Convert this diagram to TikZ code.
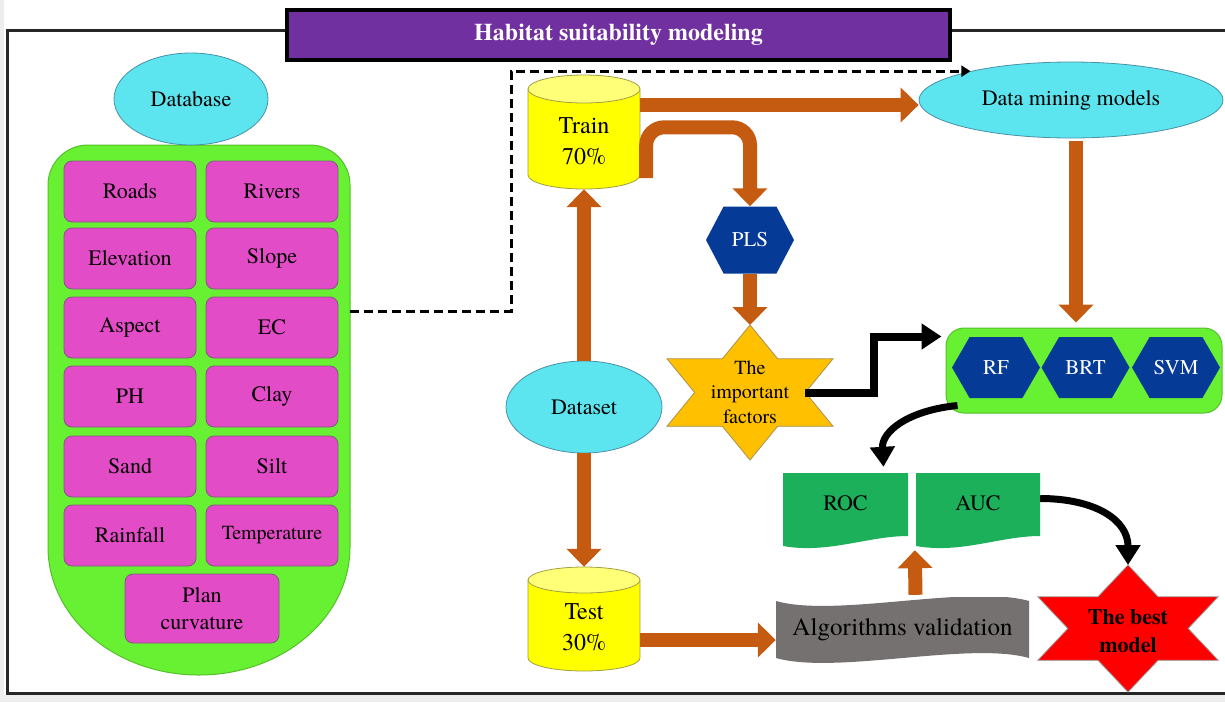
\documentclass[tikz,border=0pt]{standalone}
\usepackage{fontspec}
\setmainfont{TeX Gyre Termes}
\usetikzlibrary{shapes.geometric, arrows.meta, calc}
\definecolor{cyanc}{HTML}{5CE5EE}
\definecolor{cyanb}{HTML}{4A90A8}
\definecolor{panelg}{HTML}{68F132}
\definecolor{panelb}{HTML}{55C02A}
\definecolor{magc}{HTML}{E34CC7}
\definecolor{magb}{HTML}{7F5A80}
\definecolor{cylc}{HTML}{FFFF00}
\definecolor{cyltop}{HTML}{FFFF78}
\definecolor{cylb}{HTML}{A0A040}
\definecolor{orng}{HTML}{C55A11}
\definecolor{hexc}{HTML}{053A96}
\definecolor{starc}{HTML}{FFC000}
\definecolor{starb}{HTML}{A89050}
\definecolor{docc}{HTML}{1DB05A}
\definecolor{banc}{HTML}{767171}
\definecolor{redc}{HTML}{FF0000}
\definecolor{purp}{HTML}{7030A0}
\newcommand\myfs[2]{\fontsize{#1}{#2}\selectfont}
\begin{document}
\begin{tikzpicture}[x=1pt,y=-1pt,
  every node/.style={font=\myfs{22}{26}},
  oval/.style={ellipse, fill=cyanc, draw=cyanb, line width=0.8pt, inner sep=0pt},
  var/.style={rectangle, rounded corners=8pt, fill=magc, draw=magb, line width=0.8pt,
    minimum width=132pt, minimum height=61pt, inner sep=0pt, align=center},
  cylshape/.style={rectangle, inner sep=0pt, minimum width=112pt},
  cyltext/.style={align=center, font=\myfs{24}{31}},
  hexnode/.style={rectangle, inner sep=0pt, text=white, font=\myfs{21}{25},
    path picture={\fill[hexc] (path picture bounding box.west)
      -- ($(path picture bounding box.north west)!0.2!(path picture bounding box.north east)$)
      -- ($(path picture bounding box.north west)!0.8!(path picture bounding box.north east)$)
      -- (path picture bounding box.east)
      -- ($(path picture bounding box.south west)!0.8!(path picture bounding box.south east)$)
      -- ($(path picture bounding box.south west)!0.2!(path picture bounding box.south east)$)
      -- cycle;}},
  doc/.style={rectangle, inner sep=0pt, minimum height=77pt, text height=15pt, text depth=17pt,
    path picture={\fill[docc] (path picture bounding box.north west)
      -- (path picture bounding box.north east)
      -- ($(path picture bounding box.south east)+(0,-14)$)
      .. controls +(-40,0) and +(45,8) .. ($(path picture bounding box.south west)+(0,-4)$)
      -- cycle;}},
  banner/.style={rectangle, inner sep=0pt,
    path picture={\fill[banc] ($(path picture bounding box.north west)+(0,4)$)
      .. controls +(60,17) and +(-60,-17) .. ($(path picture bounding box.north east)+(0,4)$)
      -- ($(path picture bounding box.south east)+(0,-5)$)
      .. controls +(-60,-17) and +(60,17) .. ($(path picture bounding box.south west)+(0,-5)$)
      -- cycle;}},
  oarrow/.style={draw=orng, line width=14pt, -{Triangle[width=34pt,length=18pt]}},
  barrow/.style={draw=black, line width=8pt, line join=miter, -{Triangle[width=25pt,length=20pt]}},
  carrow/.style={draw=black, line width=7pt, -{Triangle[width=24pt,length=20pt]}},
  dashconn/.style={draw=black, line width=3pt, dash pattern=on 9pt off 5pt, -{Triangle[width=11pt,length=9pt]}},
  ]
\useasboundingbox (0,0) rectangle (1225,702);
\fill[white] (0,0) rectangle (1225,702);
\fill[black!7] (0,695) rectangle (1225,702);
\fill[black!7] (0,0) rectangle (4,702);
% frame
\draw[line width=3pt, draw=black!85, line join=miter] (1240,30) -- (7,30) -- (7,693) -- (1240,693);
% title
\node[fill=purp, draw=black, line width=3.5pt, minimum width=663pt, minimum height=50pt, inner sep=0pt,
  text=white, font=\myfs{24}{28}\bfseries] (title) at (618.5,35) {Habitat suitability modeling};

% left panel
\filldraw[fill=panelg, draw=panelb, line width=1pt] (48,185) arc[start angle=180,end angle=270,radius=40]
  -- (310,145) arc[start angle=270,end angle=360,radius=40]
  -- (350,547) arc[start angle=0,end angle=180,x radius=151,y radius=128] -- cycle;
\coordinate (panelE) at (350,311);
\node[oval, minimum width=154pt, minimum height=92pt] (database) at (191,99) {Database};
\node[var] (roads) at (130,191.5) {Roads};
\node[var] (rivers) at (272,191.5) {Rivers};
\node[var] (elev) at (130,258.5) {Elevation};
\node[var] (slope) at (272,258.5) {Slope};
\node[var] (aspect) at (130,327.5) {Aspect};
\node[var] (ec) at (272,327.5) {EC};
\node[var] (ph) at (130,396.5) {PH};
\node[var] (clay) at (272,396.5) {Clay};
\node[var] (sand) at (130,466.5) {Sand};
\node[var] (silt) at (272,466.5) {Silt};
\node[var] (rain) at (130,535.5) {Rainfall};
\node[var, font=\myfs{20}{24}] (temp) at (272,535.5) {Temperature};
\node[var, minimum width=154pt, minimum height=69pt, font=\myfs{22}{27}] (plan) at (202,608.5) {Plan\\curvature};

% cylinders
\fill[cylc] (528,89) rectangle (640,175);
\fill[cylc] (584,175) ellipse[x radius=56, y radius=14];
\draw[cylb, line width=0.8pt] (528,89) -- (528,175) arc[start angle=180, end angle=0, x radius=56, y radius=14] -- (640,89);
\filldraw[fill=cyltop, draw=cylb, line width=0.8pt] (584,89) ellipse[x radius=56, y radius=14];
\node[cylshape, minimum height=114pt] (train) at (584,132) {};
\node[cyltext] (traintxt) at (584,141) {Train\\70\%};

\fill[cylc] (528,580) rectangle (640,658);
\fill[cylc] (584,658) ellipse[x radius=56, y radius=13];
\draw[cylb, line width=0.8pt] (528,580) -- (528,658) arc[start angle=180, end angle=0, x radius=56, y radius=13] -- (640,580);
\filldraw[fill=cyltop, draw=cylb, line width=0.8pt] (584,580) ellipse[x radius=56, y radius=13];
\node[cylshape, minimum height=104pt] (test) at (584,619) {};
\node[cyltext] (testtxt) at (584,627.5) {Test\\30\%};

\node[oval, minimum width=156pt, minimum height=92pt] (dataset) at (584,407) {Dataset};

% PLS
\node[hexnode, minimum width=88pt, minimum height=67pt] (pls) at (750,240) {PLS};

% important factors star
\begin{scope}[shift={(750,392.5)}, xscale=1.42]
\filldraw[fill=starc, draw=starb, line width=0.8pt] (90:67.5) -- (60:38.97) -- (30:67.5) -- (0:38.97)
  -- (-30:67.5) -- (-60:38.97) -- (-90:67.5) -- (-120:38.97) -- (-150:67.5) -- (180:38.97)
  -- (150:67.5) -- (120:38.97) -- cycle;
\end{scope}
\coordinate (factN) at (750,325);
\coordinate (factE) at (805,392.5);
\node[font=\myfs{20}{24.5}, align=center] (fact) at (750,392) {The\\important\\factors};

% data mining
\node[oval, minimum width=304pt, minimum height=76pt] (dm) at (1071,100) {Data mining models};

% models box
\node[rectangle, rounded corners=18pt, fill=panelg, draw=panelb, line width=1pt,
  minimum width=276pt, minimum height=85pt] (models) at (1084,370.5) {};
\node[hexnode, minimum width=88pt, minimum height=61pt] (rf) at (996,367.5) {RF};
\node[hexnode, minimum width=88pt, minimum height=61pt] (brt) at (1085.5,367.5) {BRT};
\node[hexnode, minimum width=88pt, minimum height=61pt] (svm) at (1176,367.5) {SVM};

% ROC / AUC
\node[doc, minimum width=125pt] (roc) at (845.5,511.5) {ROC};
\node[doc, minimum width=124pt] (auc) at (978,511.5) {AUC};

% Algorithms validation
\node[banner, minimum width=253pt, minimum height=66pt, font=\myfs{25}{30}] (alg) at (902.5,630) {Algorithms validation};

% best model star
\begin{scope}[shift={(1128,628.5)}, xscale=1.64]
\filldraw[fill=redc, draw=black!40, line width=0.8pt] (90:63.5) -- (60:36.66) -- (30:63.5) -- (0:36.66)
  -- (-30:63.5) -- (-60:36.66) -- (-90:63.5) -- (-120:36.66) -- (-150:63.5) -- (180:36.66)
  -- (150:63.5) -- (120:36.66) -- cycle;
\end{scope}
\coordinate (bestN) at (1128,565);
\node[font=\myfs{22}{28}\bfseries, align=center] (best) at (1128,631) {The best\\model};

% connectors
\draw[dashconn] (panelE) -- ++(161,0) |- (dm.164);
\draw[oarrow] (dataset.north) -- (train.south);
\draw[oarrow] (dataset.south) -- (test.north);
\draw[oarrow] ($(train.east)+(0,-27)$) -- ($(dm.west)+(0,5)$);
\draw[oarrow, rounded corners=18pt] ($(train.east)+(6,46)$) |- ($(pls.north)+(0,-79)$) -- (pls.north);
\draw[oarrow] (pls.south) -- (factN);
\draw[oarrow] ($(dm.south)+(5,3)$) -- ($(dm.south |- models.north)+(5,-5)$);
\draw[oarrow] ($(test.east)+(0,21)$) -- ($(alg.west)+(0,10)$);
\draw[oarrow] ($(alg.north)+(13,-2)$) -- ($(auc.south west)+(-1,0)$);
\draw[barrow] (factE) -- ++(69,0) |- ($(models.north west)+(-4,9)$);
\draw[carrow] ($(models.south west)+(12,-8)$) .. controls +(-50,5) and +(-2,-35) .. ($(roc.north)+(38,-6)$);
\draw[carrow] ($(auc.east)+(0,-13)$) .. controls +(55,0) and +(0,-45) .. (bestN);
\end{tikzpicture}
\end{document}
